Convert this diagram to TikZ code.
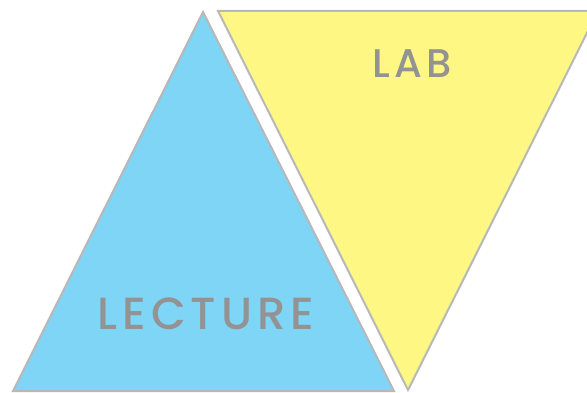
\documentclass[tikz,border=0pt]{standalone}
\usepackage{fontspec}
\setmainfont{Poppins}
\newfontfamily\labelfont[LetterSpace=11]{Poppins Medium}
\definecolor{triblue}{HTML}{7FD5F6}
\definecolor{triyellow}{HTML}{FEF784}
\definecolor{edgegray}{HTML}{B8B8B8}
\definecolor{textgray}{HTML}{939393}
\begin{document}
\begin{tikzpicture}[x=1pt,y=-1pt,
  tri/.style={draw=edgegray,line width=2pt,line join=miter},
  lbl/.style={text=textgray,font=\labelfont,inner sep=0pt,anchor=base}]
\useasboundingbox (0,0) rectangle (587,393);
\begin{scope}
\clip (0,0) rectangle (587,393);
\draw[tri,fill=triblue] (203,12) -- (394,391) -- (13,391) -- cycle;
\draw[tri,fill=triyellow] (218,11) -- (598,11) -- (408,390) -- cycle;
\end{scope}
\node[lbl,font=\labelfont\fontsize{45}{45}\selectfont] (lecture) at (206,329.5) {LECTURE};
\node[lbl,font=\labelfont\fontsize{40}{40}\selectfont] (lab) at (412,78) {LAB};
\end{tikzpicture}
\end{document}
